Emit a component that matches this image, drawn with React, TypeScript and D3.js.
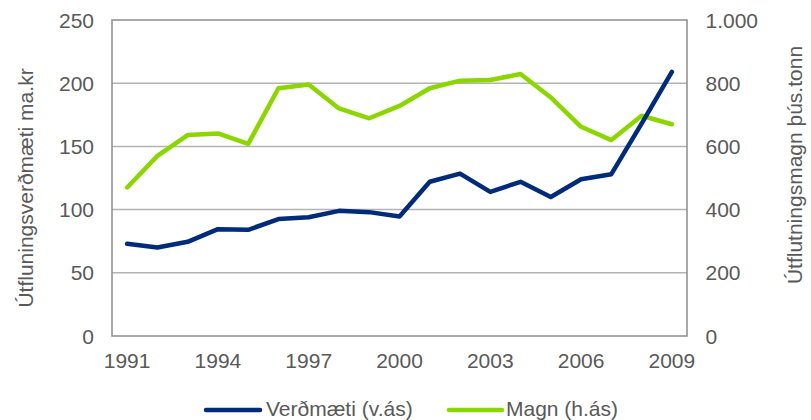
import React from "react";
import * as d3 from "d3";

const years = ["1991","1992","1993","1994","1995","1996","1997","1998","1999","2000","2001","2002","2003","2004","2005","2006","2007","2008","2009"];
const verdmaeti = [73, 70, 74.5, 84.5, 84, 92.5, 94, 99, 98, 94.5, 122, 128.5, 114, 122, 110, 124, 128, 168, 209];
const magn = [470, 570, 636, 641, 608, 784, 796, 720, 689, 728, 784, 808, 810, 829, 755, 662, 620, 697, 670];
const leftTicks = [0, 50, 100, 150, 200, 250];
const rightTicks = [0, 200, 400, 600, 800, 1000];
const xTickYears = ["1991","1994","1997","2000","2003","2006","2009"];

const W = 811, H = 420;
const M = { left: 112, right: 687, top: 20, bottom: 336 };
const BLUE = "#002A7A";
const GREEN = "#8CD600";
const TXT = "#595959";
const FONT = "'Liberation Sans', Arial, sans-serif";
const FS = 21;

export default function App() {
  const x = d3.scaleBand().domain(years).range([M.left, M.right]);
  const cx = (y: string) => (x(y) as number) + x.bandwidth() / 2;
  const yL = d3.scaleLinear().domain([0, 250]).range([M.bottom, M.top]);
  const yR = d3.scaleLinear().domain([0, 1000]).range([M.bottom, M.top]);
  const lineL = d3.line<number>().x((_, i) => cx(years[i])).y(d => yL(d));
  const lineR = d3.line<number>().x((_, i) => cx(years[i])).y(d => yR(d));
  const fmtR = (v: number) => d3.format(",")(v).replace(/,/g, ".");

  return (
    <svg width={W} height={H} style={{ position: "absolute", left: 0, top: 0 }} fontFamily={FONT}>
      <rect width={W} height={H} fill="#fff" />
      {leftTicks.slice(1, -1).map(t => (
        <line key={t} x1={M.left} x2={M.right} y1={yL(t)} y2={yL(t)} stroke="#B3B3B3" strokeWidth={1.5} />
      ))}
      <rect x={M.left} y={M.top} width={M.right - M.left} height={M.bottom - M.top} fill="none" stroke="#8C8C8C" strokeWidth={1.5} />
      {leftTicks.map(t => (
        <text key={t} x={94} y={yL(t)} dy="0.36em" textAnchor="end" fontSize={FS} fill={TXT}>{t}</text>
      ))}
      {rightTicks.map(t => (
        <text key={t} x={705.5} y={yR(t)} dy="0.36em" textAnchor="start" fontSize={FS} fill={TXT}>{fmtR(t)}</text>
      ))}
      {xTickYears.map(t => (
        <text key={t} x={cx(t)} y={368} textAnchor="middle" fontSize={FS} fill={TXT}>{t}</text>
      ))}
      <text transform={`translate(33,188) rotate(-90)`} textAnchor="middle" fontSize={FS} fill={TXT}>Útfluningsverðmæti ma.kr</text>
      <text transform={`translate(802,165) rotate(-90)`} textAnchor="middle" fontSize={FS} fill={TXT}>Útflutningsmagn þús.tonn</text>
      <path d={lineR(magn) || ""} fill="none" stroke={GREEN} strokeWidth={4.5} strokeLinejoin="round" strokeLinecap="round" />
      <path d={lineL(verdmaeti) || ""} fill="none" stroke={BLUE} strokeWidth={4.5} strokeLinejoin="round" strokeLinecap="round" />
      <line x1={206} x2={260} y1={410} y2={410} stroke={BLUE} strokeWidth={4.5} strokeLinecap="round" />
      <text x={266} y={415.5} fontSize={FS} fill={TXT}>Verðmæti (v.ás)</text>
      <line x1={449} x2={502} y1={410} y2={410} stroke={GREEN} strokeWidth={4.5} strokeLinecap="round" />
      <text x={506} y={415.5} fontSize={FS} fill={TXT}>Magn (h.ás)</text>
    </svg>
  );
}
